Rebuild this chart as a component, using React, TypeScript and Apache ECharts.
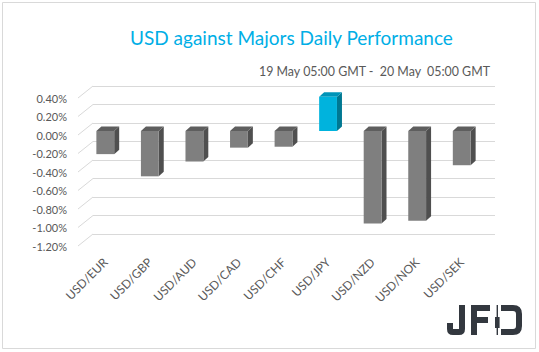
import React, { useEffect, useRef } from "react";
import * as echarts from "echarts";

const categories = ["USD/EUR", "USD/GBP", "USD/AUD", "USD/CAD", "USD/CHF", "USD/JPY", "USD/NZD", "USD/NOK", "USD/SEK"];
const values = [-0.25, -0.49, -0.33, -0.18, -0.17, 0.37, -1.0, -0.97, -0.37];
const yTicks = [0.4, 0.2, 0.0, -0.2, -0.4, -0.6, -0.8, -1.0, -1.2];
const titleText = "USD against Majors Daily Performance";
const subtitleText = "19 May 05:00 GMT -  20 May  05:00 GMT";

const LOGO_D =
  "M12,0 H18 V24 Q18,30 12,30 H6 Q0,30 0,24 V18 H6 V24 H12 Z " +
  "M24,0 H43 V6 H30 V12 H41 V18 H30 V30 H24 Z " +
  "M49.6,0 H51 V30 H49.6 Z M48,12 H52.6 V23 H48 Z " +
  "M54,0 H66 Q75,0 75,9 V21 Q75,30 66,30 H54 V24 H66 Q69,24 69,21 V9 Q69,6 66,6 H54 Z";

let registered = false;
function ensureLogo() {
  if (registered) return;
  echarts.graphic.registerShape("jfdlogo", echarts.graphic.extendPath(LOGO_D, {}));
  registered = true;
}

const FONT = "Lato";

export default function App() {
  const ref = useRef<HTMLDivElement>(null);
  useEffect(() => {
    if (!ref.current) return;
    ensureLogo();
    const chart = echarts.init(ref.current, null, { renderer: "svg" });
    const DX = 5;
    const DY = -4.5;
    const option: any = {
      animation: false,
      backgroundColor: "#ffffff",
      textStyle: { fontFamily: FONT },
      title: [
        {
          text: titleText,
          left: 130,
          top: 28,
          padding: 0,
          textStyle: { color: "#00aee6", fontSize: 19, fontWeight: "normal", fontFamily: FONT },
        },
        {
          text: subtitleText,
          left: 259,
          top: 65,
          padding: 0,
          textStyle: { color: "#595959", fontSize: 12.4, fontWeight: "normal", fontFamily: FONT },
        },
      ],
      grid: [
        { left: 83, top: 94, width: 401, height: 148 },
        { left: 93, top: 86, width: 402, height: 148 },
        { left: 78, top: 98, width: 402, height: 148 },
      ],
      xAxis: [
        {
          gridIndex: 0,
          type: "category",
          data: categories,
          axisLine: { show: false },
          axisTick: { show: false },
          axisLabel: { rotate: 45, margin: 18, color: "#595959", fontSize: 12, fontFamily: FONT, interval: 0 },
          splitLine: { show: false },
        },
        { gridIndex: 1, type: "category", data: categories, show: false },
        { gridIndex: 2, type: "category", data: categories, show: false },
      ],
      yAxis: [
        {
          gridIndex: 0,
          type: "value",
          min: -1.2,
          max: 0.4,
          interval: 0.2,
          axisLabel: { show: false },
          axisLine: { show: false },
          axisTick: { show: false },
          splitLine: { show: false },
        },
        {
          gridIndex: 1,
          type: "value",
          min: -1.2,
          max: 0.4,
          interval: 0.2,
          axisLabel: { show: false },
          axisLine: { show: false },
          axisTick: { show: false },
          splitLine: { show: true, lineStyle: { color: "#d9d9d9", width: 1 } },
        },
        {
          gridIndex: 2,
          type: "value",
          min: -1.2,
          max: 0.4,
          interval: 0.2,
          axisLabel: {
            show: true,
            margin: 11,
            color: "#595959",
            fontSize: 11,
            fontFamily: FONT,
            formatter: (v: number) => v.toFixed(2) + "%",
          },
          axisLine: { show: false },
          axisTick: { show: false },
          splitLine: { show: false },
        },
      ],
      series: [
        {
          type: "custom",
          xAxisIndex: 1,
          yAxisIndex: 1,
          data: yTicks.map((t) => [0, t]),
          renderItem: (params: any, api: any) => {
            const y = api.coord([0, api.value(1)])[1];
            const x0 = params.coordSys.x;
            return {
              type: "line",
              shape: { x1: x0 - 15, y1: y + 12, x2: x0, y2: y },
              style: { stroke: "#d9d9d9", lineWidth: 1 },
            };
          },
          z: 1,
        },
        {
          type: "custom",
          xAxisIndex: 0,
          yAxisIndex: 0,
          data: values.map((v, i) => [i, v]),
          renderItem: (params: any, api: any) => {
            const i = api.value(0);
            const v = api.value(1);
            const p0 = api.coord([i, 0]);
            const p1 = api.coord([i, v]);
            const w = api.size([1, 0])[0] * 0.4;
            const xl = p0[0] - w / 2;
            const xr = p0[0] + w / 2;
            const yTop = Math.min(p0[1], p1[1]);
            const yBot = Math.max(p0[1], p1[1]);
            const pos = v > 0;
            const front = pos ? "#00b3dd" : "#7f7f7f";
            const side = pos ? "#007892" : "#4f4f4f";
            const top = pos ? "#0094b8" : "#5e5e5e";
            return {
              type: "group",
              children: [
                {
                  type: "polygon",
                  shape: { points: [[xr, yTop], [xr + DX, yTop + DY], [xr + DX, yBot + DY], [xr, yBot]] },
                  style: { fill: side },
                },
                {
                  type: "polygon",
                  shape: { points: [[xl, yTop], [xr, yTop], [xr + DX, yTop + DY], [xl + DX, yTop + DY]] },
                  style: { fill: top },
                },
                {
                  type: "rect",
                  shape: { x: xl, y: yTop, width: w, height: yBot - yTop },
                  style: { fill: front },
                },
              ],
            };
          },
          z: 3,
        },
      ],
      graphic: [
        {
          type: "rect",
          shape: { x: 2.5, y: 2.5, width: 533, height: 346 },
          style: { fill: "none", stroke: "#d9d9d9", lineWidth: 1 },
          z: 0,
        },
        {
          type: "jfdlogo",
          x: 447,
          y: 305,
          style: { fill: "#33383f" },
        },
      ],
    };
    chart.setOption(option);
    return () => chart.dispose();
  }, []);
  return (
    <div
      ref={ref}
      style={{ position: "fixed", left: 0, top: 0, width: 539, height: 352 }}
    />
  );
}
